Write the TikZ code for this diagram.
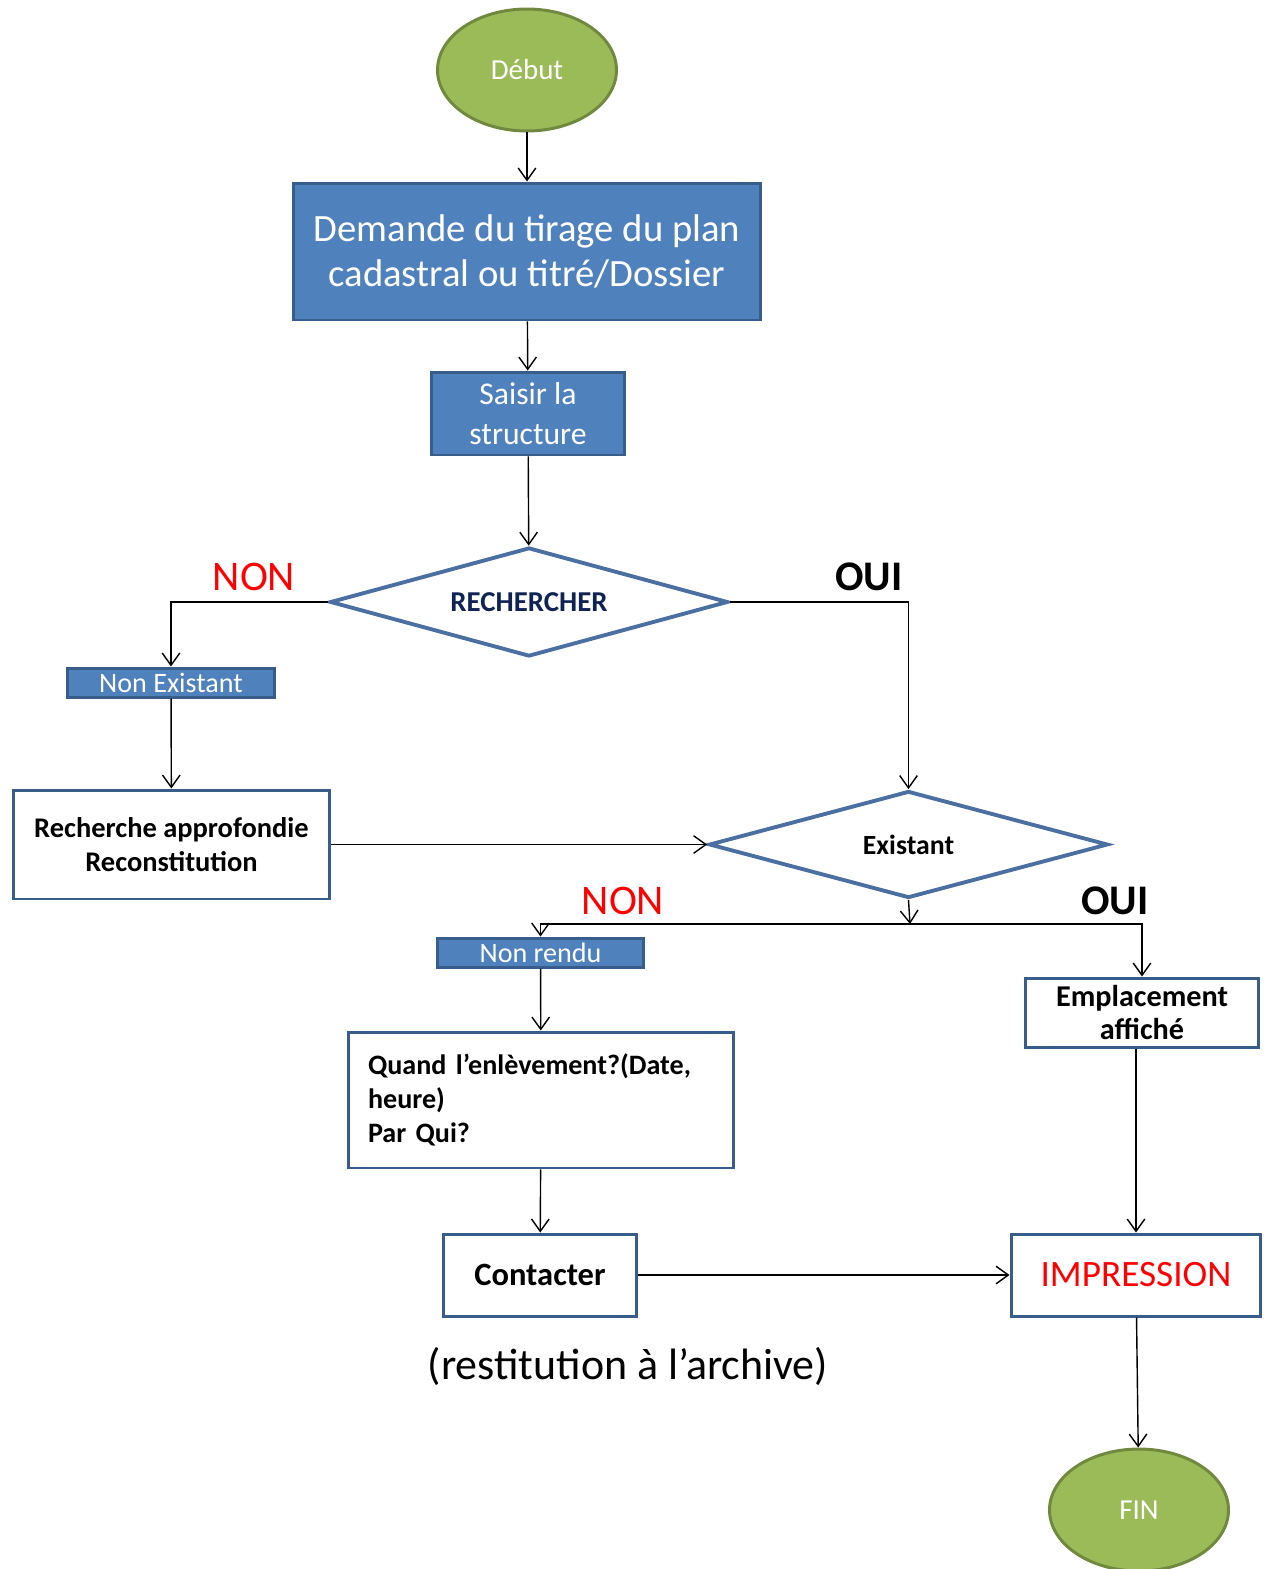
\documentclass[tikz,border=0pt]{standalone}
\usepackage{fontspec}
\setmainfont{Carlito}
\usetikzlibrary{arrows.meta, shapes.geometric}
\definecolor{vertclair}{HTML}{9BBB59}
\definecolor{vertfonce}{HTML}{71893F}
\definecolor{bleuclair}{HTML}{4F81BD}
\definecolor{bleufonce}{HTML}{385D8A}
\definecolor{bleulos}{HTML}{4A6FA0}
\definecolor{marine}{HTML}{0F2453}
\definecolor{rouge}{HTML}{FF0000}

\begin{document}
\begin{tikzpicture}[x=0.02cm, y=-0.02cm, line width=0.8pt,
  >={Straight Barb[length=7pt,width=10pt]},
  fleche/.style={->},
  debfin/.style={ellipse, draw=vertfonce, line width=1.7pt, fill=vertclair, text=white, minimum width=3.58cm, minimum height=2.44cm, inner sep=0pt, font=\fontsize{16.5}{20}\selectfont},
  bleu/.style={rectangle, draw=bleufonce, line width=1.7pt, fill=bleuclair, text=white, inner sep=0pt, align=center},
  cadre/.style={rectangle, draw=bleufonce, line width=1.7pt, fill=white, inner sep=0pt, align=center},
  losange/.style={diamond, aspect=3.7, draw=bleulos, line width=2.2pt, fill=white, inner sep=0pt},
  non/.style={text=rouge, font=\fontsize{24}{28}\selectfont},
  oui/.style={font=\bfseries\fontsize{24}{28}\selectfont}]
\useasboundingbox (0,0) rectangle (1270,1569);

\node[debfin] (debut) at (527,70) {Début};
\node[bleu, minimum width=9.36cm, minimum height=2.74cm, font=\fontsize{22}{26}\selectfont] (demande) at (527,251.5) {Demande du tirage du plan\\cadastral ou titré/Dossier};
\node[bleu, minimum width=3.88cm, minimum height=1.66cm, font=\fontsize{18}{22.7}\selectfont] (saisir) at (528,413.5) {Saisir la\\structure};
\node[losange, minimum width=7.96cm, minimum height=2.18cm, text=marine, font=\bfseries\fontsize{16.4}{20}\selectfont] (rech) at (529,602) {RECHERCHER};
\node[bleu, minimum width=4.16cm, minimum height=0.58cm, font=\fontsize{16}{18}\selectfont] (nonex) at (171,682.5) {Non Existant};
\node[cadre, minimum width=6.34cm, minimum height=2.18cm, font=\bfseries\fontsize{16.2}{19.8}\selectfont] (approf) at (171.5,844.5) {Recherche approfondie\\Reconstitution};
\node[losange, minimum width=7.98cm, minimum height=2.14cm, font=\bfseries\fontsize{15.8}{19}\selectfont] (exist) at (908.5,844.5) {Existant};
\coordinate (jonction) at (910,924);
\node[bleu, minimum width=4.14cm, minimum height=0.58cm, font=\fontsize{16}{18}\selectfont] (nonrendu) at (540.5,952.5) {Non rendu};
\node[cadre, minimum width=7.72cm, minimum height=2.72cm, text width=6.92cm, align=left, font=\bfseries\fontsize{16}{19.3}\selectfont] (quand) at (541,1100) {Quand l’enlèvement?(Date,\\heure)\\Par Qui?};
\node[cadre, minimum width=3.88cm, minimum height=1.64cm, font=\bfseries\fontsize{18.5}{22}\selectfont] (contact) at (540,1275) {Contacter};
\node[cadre, minimum width=4.68cm, minimum height=1.38cm, font=\bfseries\fontsize{17.2}{18.9}\selectfont] (empl) at (1142,1012.5) {Emplacement\\affiché};
\node[cadre, minimum width=5.0cm, minimum height=1.64cm, text=rouge, font=\fontsize{21.2}{24}\selectfont] (impr) at (1136,1275) {IMPRESSION};
\node[debfin] (fin) at (1139,1510) {FIN};

\node[non] (non1) at (254,577) {NON};
\node[oui] (oui1) at (869,577) {OUI};
\node[non] (non2) at (623,901) {NON};
\node[oui] (oui2) at (1115,901) {OUI};
\node[font=\fontsize{25}{30}\selectfont] (restit) at (628,1366) {(restitution à l’archive)};

\draw[fleche] (debut) -- (demande);
\draw[fleche] (demande) -- (saisir);
\draw[fleche] (saisir) -- (rech);
\draw[fleche] (rech.west) -| (nonex.north);
\draw[fleche] (nonex) -- (approf);
\draw[fleche] (approf) -- (exist.west);
\draw[fleche] (rech.east) -| (exist.north);
\draw[fleche] (exist.south) -- (jonction);
\draw[fleche] (jonction) -| (nonrendu.north);
\draw[fleche] (jonction) -| (empl.north);
\draw[fleche] (nonrendu) -- (quand);
\draw[fleche] (quand) -- (contact);
\draw[fleche] (contact) -- (impr);
\draw[fleche] (impr.north |- empl.south) -- (impr.north);
\draw[fleche] (impr) -- (fin);
\end{tikzpicture}
\end{document}
